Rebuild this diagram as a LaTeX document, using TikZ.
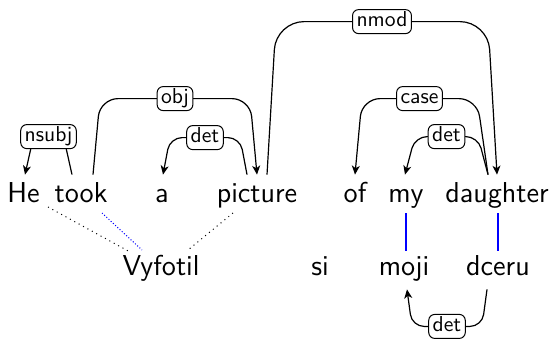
\documentclass[tikz,border=0pt]{standalone}
\usepackage{tikz}
\usetikzlibrary{arrows.meta}

\tikzset{
  word/.style={font=\sffamily\fontsize{14.4}{17}\selectfont, anchor=base,
               inner sep=1pt, text height=12.5pt, text depth=6pt},
  deplabel/.style={draw, fill=white, rounded corners=3pt, line width=0.5pt,
               font=\sffamily\fontsize{10.8}{13}\selectfont,
               inner xsep=2pt, inner ysep=1.5pt, text height=7pt, text depth=2pt},
  depedge/.style={-{Stealth[length=4.5pt,width=4pt,inset=1.3pt]}, line width=0.6pt,
               rounded corners=7pt},
  align/.style={blue, line width=1pt, shorten <=-1.5pt, shorten >=-1.5pt},
  link/.style={dotted, line width=0.5pt},
}

\begin{document}
\begin{tikzpicture}[x=0.5pt, y=-0.5pt]

\useasboundingbox (0,0) rectangle (555,339);

% baselines of the two sentences
\def\topY{202}
\def\botY{275}

%---------------------------------------
% English sentence
%---------------------------------------
\node[word] (He)       at (23.5,\topY) {He};
\node[word] (took)     at (81,\topY)   {took};
\node[word] (a)        at (162,\topY)  {a};
\node[word] (picture)  at (257,\topY)  {picture};
\node[word] (of)       at (355,\topY)  {of};
\node[word] (my)       at (406,\topY)  {my};
\node[word] (daughter) at (497,\topY)  {daughter};

%---------------------------------------
% Czech sentence
%---------------------------------------
\node[word] (Vyfotil) at (161,\botY) {Vyfotil};
\node[word] (si)      at (320,\botY) {si};
\node[word] (moji)    at (404,\botY) {moji};
\node[word] (dceru)   at (498,\botY) {dceru};

%---------------------------------------
% Dependencies above the English words
%---------------------------------------
\draw[depedge, rounded corners=5pt] ([shift={(-9,0)}]took.north) -- ++(-8.5,-38)
  -- node[deplabel] (nsubj) {nsubj} ([shift={(10,-38)}]He.north)
  -- ([shift={(1.5,0)}]He.north);

\draw[depedge, rounded corners=9pt] ([shift={(12,0)}]took.north) -- ++(7,-76)
  -- node[deplabel] (obj) {obj} ([shift={(-7,-76)}]picture.north)
  -- (picture.north);

\draw[depedge, rounded corners=6pt] ([shift={(-10,0)}]picture.north) -- ++(-7,-37)
  -- node[deplabel] (detA) {det} ([shift={(8,-37)}]a.north)
  -- ([shift={(1,0)}]a.north);

\draw[depedge, rounded corners=14pt] ([shift={(10,0)}]picture.north) -- ++(9,-153)
  -- node[deplabel] (nmod) {nmod} ([shift={(-9,-153)}]daughter.north)
  -- (daughter.north);

\draw[depedge, rounded corners=9pt] ([shift={(-9,0)}]daughter.north) -- ++(-11,-76)
  -- node[deplabel] (case) {case} ([shift={(7,-76)}]of.north)
  -- (of.north);

\draw[depedge, rounded corners=6pt] ([shift={(-9,0)}]daughter.north) -- ++(-10,-38)
  -- node[deplabel] (detMy) {det} ([shift={(9,-38)}]my.north)
  -- ([shift={(-1,0)}]my.north);

%---------------------------------------
% Dependency below the Czech words
%---------------------------------------
\draw[depedge, rounded corners=6pt] ([shift={(-11,0)}]dceru.south) -- ++(-5,37)
  -- node[deplabel] (detMoji) {det} ([shift={(8,37)}]moji.south)
  -- ([shift={(3,0)}]moji.south);

%---------------------------------------
% Word alignment
%---------------------------------------
\draw[align] (my.south) -- (my.south |- moji.north);
\draw[align] ([shift={(1,0)}]daughter.south) -- ([shift={(1,0)}]daughter.south |- dceru.north);

\draw[link] ([shift={(24.5,5)}]He.base) -- ([shift={(-31,-23)}]Vyfotil.base);
\draw[link, blue, densely dotted] ([shift={(21,11)}]took.base) -- ([shift={(-19,-25)}]Vyfotil.base);
\draw[link] ([shift={(-24,11)}]picture.base) -- ([shift={(27,-25)}]Vyfotil.base);

\end{tikzpicture}
\end{document}
